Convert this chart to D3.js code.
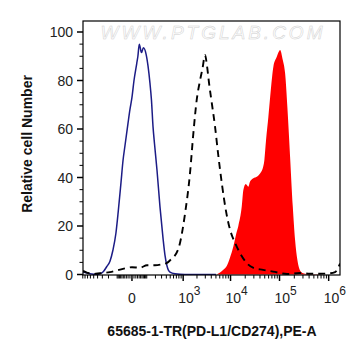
<!DOCTYPE html>
<html>
<head>
<meta charset="utf-8">
<script src="https://cdn.jsdelivr.net/npm/d3@7"></script>
<style>
  html, body { margin: 0; padding: 0; background: #fff; }
  svg { display: block; font-family: Arial, "Liberation Sans", sans-serif; }
</style>
</head>
<body>
<svg id="chart" width="361" height="359"></svg>
<script>
(function () {
  "use strict";

  // Isotype control (blue solid): fluorescence value, relative count
  var isoX = [-890, -616, -416, -348, -289, -227, -180, -144, -112, -90, -67, -52, -39, -21, -10, 0, 10, 25, 32, 41, 56, 71, 93, 112, 132, 149, 168, 187, 223, 271, 328, 369, 416, 493, 650, 1098, 5000];
  var isoY = [1, 0.3, 0, 0.3, 1, 3.2, 5.5, 10, 17, 26, 38, 47, 53, 62, 68, 73, 80, 87, 90, 95, 91.5, 93.5, 91, 86, 79, 72, 61, 54, 43, 28, 15, 8, 3.5, 1, 0.3, 0, 0];

  // Unstained / secondary-only (black dashed)
  var ctrlX = [-890, -724, -552, -348, -180, -93, -39, 0, 45, 102, 194, 308, 416, 522, 593, 848, 1098, 1415, 1668, 1974, 2321, 2620, 2960, 3260, 3590, 4150, 4790, 5530, 6680, 8090, 9770, 12380, 15670, 21500, 28900, 46300, 74000, 142600, 262300, 419000, 670000, 1070000, 1350000, 1700000];
  var ctrlY = [1.5, 0.8, 0.2, 0.5, 1, 1.8, 2.5, 3, 2.8, 3.8, 3.8, 4.2, 4.8, 6.2, 7, 13, 25, 41.8, 58, 72, 80, 85, 90.5, 86, 79, 70, 61, 50, 37, 26, 18.5, 13, 8.8, 4.7, 2.8, 1.9, 1.2, 0.2, 0.6, 0.3, 0.3, 0.5, 1, 4.5];

  // PD-L1 stained (red filled)
  var pdX = [5190, 6080, 7110, 8360, 9770, 11430, 12980, 14460, 16980, 18310, 20500, 23170, 25100, 29300, 34400, 40200, 45600, 49200, 53200, 59300, 66400, 75000, 88000, 94800, 102700, 116600, 130000, 144600, 164100, 186300, 207500, 231100, 271100, 302000, 359000, 529500, 670000];
  var pdY = [0, 0.8, 2, 3.5, 7, 11.5, 16.5, 20, 28, 34.8, 37.3, 36.2, 38.3, 39.7, 40.3, 41.7, 43.8, 47.2, 55.5, 65, 76, 85.7, 89.8, 91.5, 92.6, 88.5, 83, 69, 48.6, 28, 14.2, 6, 1.2, 0.5, 0.2, 0.1, 0];

  var yTicks = [0, 20, 40, 60, 80, 100];
  var xMajor = [0, 1e3, 1e4, 1e5, 1e6];
  var xLabels = ["0", "3", "4", "5", "6"];

  var L = 83, R = 340, T = 21, B = 275;
  var svg = d3.select("#chart");

  var x = d3.scaleSymlog().constant(100).domain([-890, 1.7e6]).range([L, R]);
  var y = d3.scaleLinear().domain([0, 100]).range([274.5, 32]);

  function pts(xs, ys) { return xs.map(function (v, i) { return [v, ys[i]]; }); }

  svg.append("defs").append("clipPath").attr("id", "plot")
    .append("rect").attr("x", L).attr("y", T).attr("width", R - L).attr("height", B - T);

  // watermark
  svg.append("text")
    .attr("x", 213).attr("y", 39).attr("text-anchor", "middle")
    .attr("font-size", 19).attr("font-style", "italic").attr("letter-spacing", 3)
    .attr("fill", "#fff").attr("stroke", "#cfcfcf").attr("stroke-width", 0.5)
    .text("WWW.PTGLAB.COM");

  var g = svg.append("g").attr("clip-path", "url(#plot)");

  var area = d3.area().x(function (d) { return x(d[0]); }).y0(y(0)).y1(function (d) { return y(d[1]); })
    .curve(d3.curveMonotoneX);
  var line = d3.line().x(function (d) { return x(d[0]); }).y(function (d) { return y(d[1]); })
    .curve(d3.curveMonotoneX);

  g.append("path").attr("d", area(pts(pdX, pdY))).attr("fill", "#ff0000");
  g.append("path").attr("d", line(pts(isoX, isoY))).attr("fill", "none")
    .attr("stroke", "#1c1c86").attr("stroke-width", 1.5);
  g.append("path").attr("d", line(pts(ctrlX, ctrlY))).attr("fill", "none")
    .attr("stroke", "#000").attr("stroke-width", 1.9).attr("stroke-dasharray", "7,5");

  // frame
  svg.append("rect").attr("x", L).attr("y", T).attr("width", R - L).attr("height", B - T)
    .attr("fill", "none").attr("stroke", "#000").attr("stroke-width", 1.2);

  // y axis ticks
  var yMinor = d3.range(0, 101, 5).filter(function (v) { return v % 20; });
  svg.append("g").selectAll("line").data(yMinor).join("line")
    .attr("x1", L - 3.5).attr("x2", L).attr("y1", function (d) { return y(d); }).attr("y2", function (d) { return y(d); })
    .attr("stroke", "#000");
  svg.append("g").selectAll("line").data(yTicks).join("line")
    .attr("x1", L - 6).attr("x2", L).attr("y1", function (d) { return y(d); }).attr("y2", function (d) { return y(d); })
    .attr("stroke", "#000").attr("stroke-width", 1.5);
  svg.append("g").selectAll("text").data(yTicks).join("text")
    .attr("x", 73).attr("y", function (d) { return y(d) + 5; })
    .attr("text-anchor", "end").attr("font-size", 14).attr("fill", "#222")
    .text(function (d) { return d; });

  // x axis ticks (biexponential)
  var xMinor = [];
  [10, 100].forEach(function (s) {
    for (var k = 1; k <= 9; k++) { xMinor.push(-k * s); xMinor.push(k * s); }
  });
  [1e3, 1e4, 1e5].forEach(function (s) {
    for (var k = 2; k <= 9; k++) xMinor.push(k * s);
  });
  svg.append("g").selectAll("line").data(xMinor).join("line")
    .attr("x1", function (d) { return x(d); }).attr("x2", function (d) { return x(d); })
    .attr("y1", B).attr("y2", B + 3.5).attr("stroke", "#000");
  svg.append("g").selectAll("line").data(xMajor).join("line")
    .attr("x1", function (d) { return x(d); }).attr("x2", function (d) { return x(d); })
    .attr("y1", B).attr("y2", B + 6).attr("stroke", "#000").attr("stroke-width", 1.5);

  var xl = svg.append("g").selectAll("text").data(xMajor).join("text")
    .attr("font-size", 14).attr("fill", "#222")
    .attr("x", function (d) { return d === 0 ? x(d) : x(d) - 5; })
    .attr("y", 303)
    .attr("text-anchor", function (d) { return d === 0 ? "middle" : "start"; });
  xl.each(function (d, i) {
    var t = d3.select(this);
    if (d === 0) { t.text(xLabels[i]); return; }
    t.append("tspan").text("10");
    t.append("tspan").attr("dy", -8).attr("font-size", 12).text(xLabels[i]);
  });

  // axis titles
  svg.append("text").attr("x", 212).attr("y", 336).attr("text-anchor", "middle")
    .attr("font-size", 14).attr("font-weight", "bold").attr("fill", "#111")
    .text("65685-1-TR(PD-L1/CD274),PE-A");
  svg.append("text").attr("transform", "translate(32,144) rotate(-90)").attr("text-anchor", "middle")
    .attr("font-size", 14).attr("font-weight", "bold").attr("fill", "#111")
    .text("Relative cell Number");
})();
</script>
</body>
</html>
